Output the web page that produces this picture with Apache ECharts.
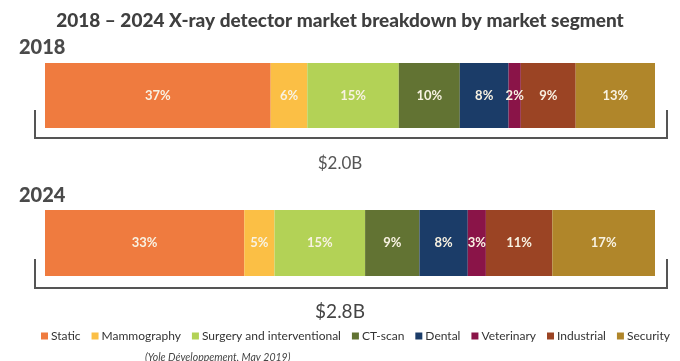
<!DOCTYPE html>
<html><head><meta charset="utf-8">
<script src="https://cdn.jsdelivr.net/npm/echarts@6/dist/echarts.min.js"></script>
<style>html,body{margin:0;padding:0;background:#fff}#c{width:680px;height:361px}</style>
</head><body><div id="c"></div>
<script>
const segments = ['Static','Mammography','Surgery and interventional','CT-scan','Dental','Veterinary','Industrial','Security'];
const colors = ['#ef7b3f','#fbbf45','#b3d256','#627333','#1b3c68','#8a1448','#9b4424','#b0862a'];
const years = ['2018','2024'];
const values2018 = [37,6,15,10,8,2,9,13];
const values2024 = [33,5,15,9,8,3,11,17];
const totals = ['$2.0B','$2.8B'];
const titleText = '2018 \u2013 2024 X-ray detector market breakdown by market segment';
const sourceText = '(Yole D\u00e9veloppement, May 2019)';

const chart = echarts.init(document.getElementById('c'), null, {renderer:'canvas'});
const font = 'Lato, "Open Sans", sans-serif';
const allValues = [values2018, values2024];
const series = [];
allValues.forEach((vals, gi) => {
  vals.forEach((v, i) => {
    series.push({
      type:'bar', name: segments[i], stack:'s'+gi, xAxisIndex: gi, yAxisIndex: gi,
      data:[v], barWidth:'100%', barCategoryGap:0,
      itemStyle:{color: colors[i]},
      label:{show:true, position:'inside', formatter:'{c}%', color:'#f8f2e2', fontFamily:font, fontWeight:'bold', fontSize:13},
      emphasis:{disabled:true}
    });
  });
});
const bracket = (top, bottom) => ({
  type:'polyline', shape:{points:[[35,top],[35,bottom],[667,bottom],[667,top]]},
  style:{stroke:'#555', lineWidth:2, fill:null}
});
chart.setOption({
  animation:false,
  color: colors,
  title:[
    {text:titleText, left:'center', top:6, textStyle:{fontFamily:font, fontWeight:900, fontSize:19, color:'#3f3f3f'}},
    {text:years[0], left:14, top:33, textStyle:{fontFamily:font, fontWeight:900, fontSize:20, color:'#4a4a4a'}},
    {text:years[1], left:14, top:181, textStyle:{fontFamily:font, fontWeight:900, fontSize:20, color:'#4a4a4a'}},
    {text:totals[0], left:'center', top:150, textStyle:{fontFamily:font, fontWeight:'normal', fontSize:17, color:'#555'}},
    {text:totals[1], left:'center', top:297, textStyle:{fontFamily:font, fontWeight:'normal', fontSize:19, color:'#444'}},
    {text:sourceText, left:140, top:347, textStyle:{fontFamily:font, fontStyle:'italic', fontWeight:'normal', fontSize:10.5, color:'#444'}}
  ],
  legend:{data:segments, left:36, top:325, itemWidth:7, itemHeight:7, itemGap:11, icon:'rect',
    textStyle:{fontFamily:font, fontSize:12, color:'#333', padding:[0,0,0,-2]}},
  grid:[
    {left:45, width:610, top:63, height:65},
    {left:45, width:610, top:210, height:66}
  ],
  xAxis:[0,1].map(i=>({type:'value', gridIndex:i, min:0, max:'dataMax', show:false})),
  yAxis:[0,1].map(i=>({type:'category', gridIndex:i, data:[years[i]], show:false})),
  series: series,
  graphic:[bracket(110,138), bracket(259,288)]
});
</script></body></html>
